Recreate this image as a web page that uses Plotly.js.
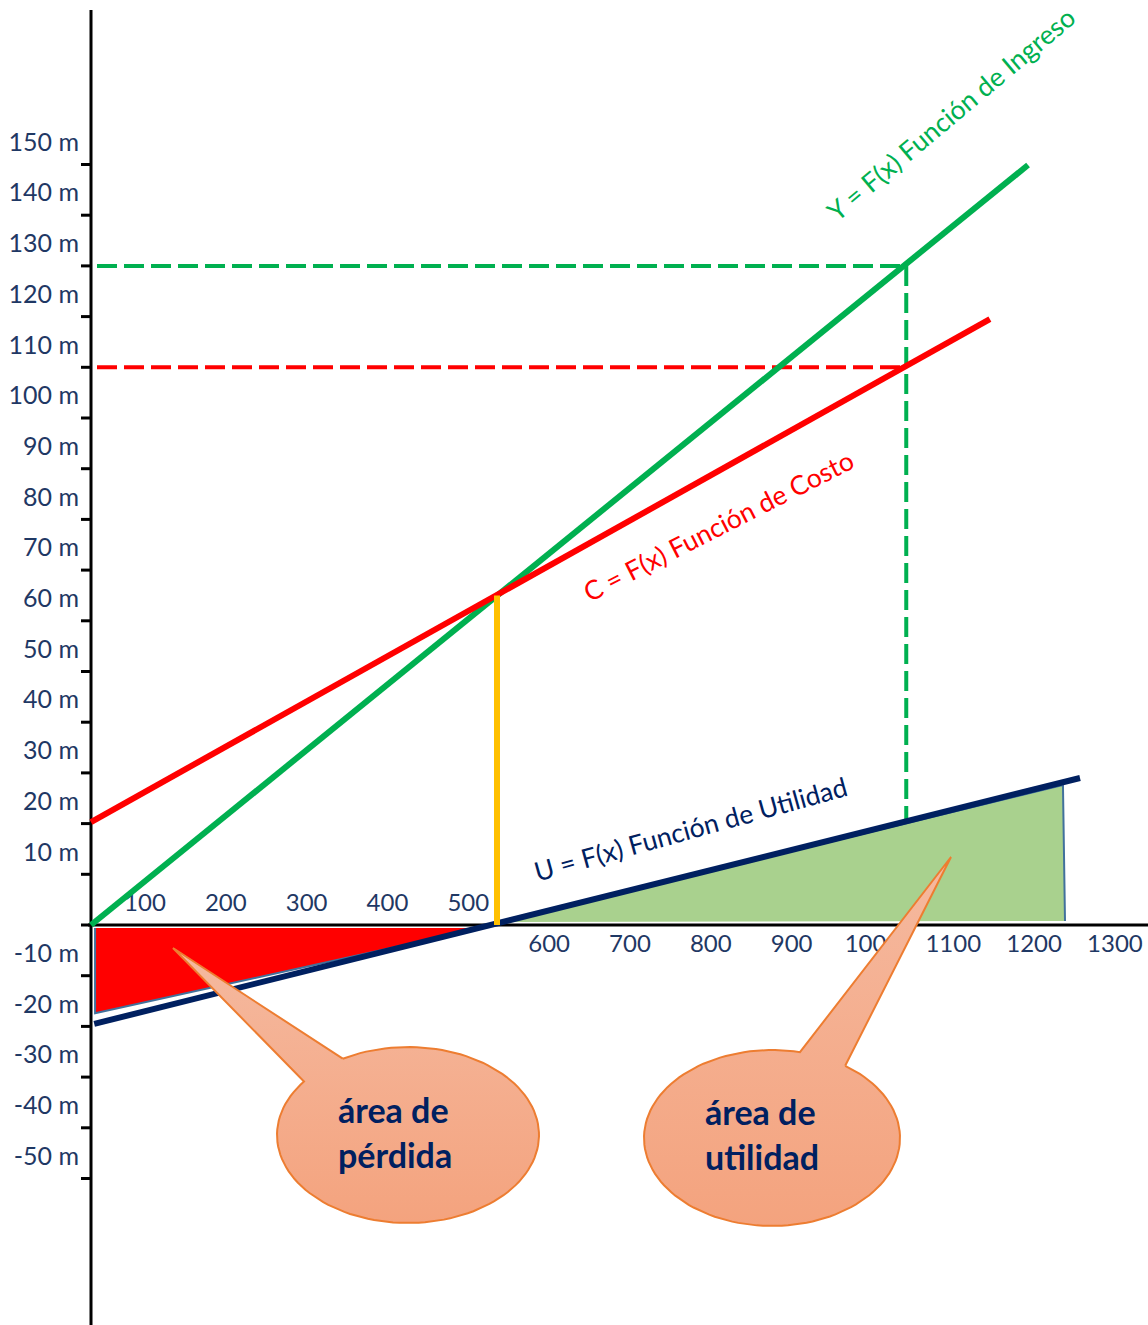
<!DOCTYPE html>
<html>
<head>
<meta charset="utf-8">
<script src="https://cdn.plot.ly/plotly-3.0.1.min.js"></script>
<style>html,body{margin:0;padding:0;background:#fff;overflow:hidden}</style>
</head>
<body>
<div id="chart" style="width:1148px;height:1325px"></div>
<script>
// ---------------- DATA (units vs. millions) ----------------
const revenueX = [0, 1154];
const revenueY = [0, 149.9];
const costX = [0, 1107];
const costY = [20.3, 119.5];
const utilityX = [4, 1218];
const utilityY = [-19.5, 29.0];
const breakEvenUnits = 500;
const breakEvenAmount = 65;
const targetUnits = 1004;
const targetRevenue = 130;
const targetCost = 110;
const targetUtility = 20.7;
const lossAreaX = [5, 5, 481];
const lossAreaY = [-0.6, -17.4, -0.6];
const profitAreaX = [505, 1197, 1199.5];
const profitAreaY = [0.6, 27.6, 0.8];
const yTickMarks = [-50, -40, -30, -20, -10, 0, 10, 20, 30, 40, 50, 60, 70, 80, 90, 100, 110, 120, 130, 140, 150];
const yLabelValues = [-50, -40, -30, -20, -10, 10, 20, 30, 40, 50, 60, 70, 80, 90, 100, 110, 120, 130, 140, 150];
const yLabelTexts = ['-50 m', '-40 m', '-30 m', '-20 m', '-10 m', '10 m', '20 m', '30 m', '40 m', '50 m', '60 m', '70 m', '80 m', '90 m', '100 m', '110 m', '120 m', '130 m', '140 m', '150 m'];
const xLabelsAbove = [100, 200, 300, 400, 500];
const xLabelsBelow = [600, 700, 800, 900, 1000, 1100, 1200, 1300];
const labelIngreso = 'Y = F(x) Función de Ingreso';
const labelCosto = 'C = F(x) Función de Costo';
const labelUtilidad = 'U = F(x) Función de Utilidad';
const calloutLoss = ['área de', 'pérdida'];
const calloutProfit = ['área de', 'utilidad'];

// ---------------- LAYOUT GEOMETRY ----------------
const W = 1148, H = 1325;
const X_PX0 = 91, X_SCALE = 0.812;   // px per unit
const Y_PX0 = 925, Y_SCALE = 5.07;   // px per million
const xRange = [-X_PX0 / X_SCALE, (W - X_PX0) / X_SCALE];
const yRange = [-(H - Y_PX0) / Y_SCALE, Y_PX0 / Y_SCALE];
const px2x = p => (p - X_PX0) / X_SCALE;
const py2y = p => (Y_PX0 - p) / Y_SCALE;

const NAVY = '#1F3864';
const FONT = 'Lato, "Open Sans", sans-serif';

const traces = [];

// tick labels (text traces, so callout pointers can cover them)
traces.push({
  type: 'scatter', mode: 'text', cliponaxis: false, hoverinfo: 'skip',
  x: yLabelValues.map(() => px2x(79)),
  y: yLabelValues.map(v => v + 20 / Y_SCALE),
  text: yLabelTexts, textposition: 'middle left',
  textfont: {family: FONT, size: 25, color: NAVY}
});
const xLabelPx = v => 145 + (v - 100) * 0.8083;
traces.push({
  type: 'scatter', mode: 'text', cliponaxis: false, hoverinfo: 'skip',
  x: xLabelsAbove.map(v => px2x(xLabelPx(v))),
  y: xLabelsAbove.map(() => 20 / Y_SCALE),
  text: xLabelsAbove.map(String), textposition: 'middle center',
  textfont: {family: FONT, size: 24, color: NAVY}
});
traces.push({
  type: 'scatter', mode: 'text', cliponaxis: false, hoverinfo: 'skip',
  x: xLabelsBelow.map(v => px2x(xLabelPx(v))),
  y: xLabelsBelow.map(() => -21 / Y_SCALE),
  text: xLabelsBelow.map(String), textposition: 'middle center',
  textfont: {family: FONT, size: 24, color: NAVY}
});

// y-axis tick marks
const tx = [], ty = [];
yTickMarks.forEach(v => { tx.push(px2x(81), 0, null); ty.push(v, v, null); });
traces.push({type: 'scatter', mode: 'lines', x: tx, y: ty, hoverinfo: 'skip',
  line: {color: '#000', width: 3}});

// areas
traces.push({type: 'scatter', mode: 'lines', fill: 'toself', hoverinfo: 'skip',
  x: lossAreaX, y: lossAreaY, fillcolor: '#FF0000', line: {color: '#41719C', width: 2}});
traces.push({type: 'scatter', mode: 'lines', fill: 'toself', hoverinfo: 'skip',
  x: profitAreaX, y: profitAreaY, fillcolor: '#A9D18E', line: {color: '#41719C', width: 2}});

// dashed guides
traces.push({type: 'scatter', mode: 'lines', hoverinfo: 'skip',
  x: [px2x(97), targetUnits], y: [targetRevenue, targetRevenue],
  line: {color: '#00B050', width: 4, dash: '20px,7px'}});
traces.push({type: 'scatter', mode: 'lines', hoverinfo: 'skip',
  x: [targetUnits, targetUnits], y: [targetRevenue, targetUtility],
  line: {color: '#00B050', width: 4, dash: '20px,7px'}});
traces.push({type: 'scatter', mode: 'lines', hoverinfo: 'skip',
  x: [px2x(97), targetUnits], y: [targetCost, targetCost],
  line: {color: '#FF0000', width: 4, dash: '20px,7px'}});

// main functions
traces.push({type: 'scatter', mode: 'lines', hoverinfo: 'skip',
  x: revenueX, y: revenueY, line: {color: '#00B050', width: 6}});
traces.push({type: 'scatter', mode: 'lines', hoverinfo: 'skip',
  x: costX, y: costY, line: {color: '#FF0000', width: 6}});
traces.push({type: 'scatter', mode: 'lines', hoverinfo: 'skip',
  x: utilityX, y: utilityY, line: {color: '#002060', width: 6}});
traces.push({type: 'scatter', mode: 'lines', hoverinfo: 'skip',
  x: [breakEvenUnits, breakEvenUnits], y: [0, breakEvenAmount], line: {color: '#FFC000', width: 6}});

// callouts (ellipse + pointer), geometry in pixels converted to axes
function callout(cx, cy, rx, ry, tip, b1, b2) {
  const ang = b => Math.atan2((b[1] - cy) / ry, (b[0] - cx) / rx);
  const a1 = ang(b1), a2 = ang(b2);
  const start = Math.max(a1, a2), end = Math.min(a1, a2) + 2 * Math.PI;
  const xs = [], ys = [];
  const n = 120;
  for (let i = 0; i <= n; i++) {
    const t = start + (end - start) * i / n;
    xs.push(px2x(cx + rx * Math.cos(t)));
    ys.push(py2y(cy + ry * Math.sin(t)));
  }
  xs.push(px2x(tip[0])); ys.push(py2y(tip[1]));
  xs.push(xs[0]); ys.push(ys[0]);
  return {type: 'scatter', mode: 'lines', fill: 'toself', hoverinfo: 'skip',
    x: xs, y: ys, line: {color: '#ED7D31', width: 2},
    fillgradient: {type: 'vertical', colorscale: [[0, '#F4A37E'], [1, '#F5B99F']]}};
}
traces.push(callout(408, 1135, 131, 88, [173, 948], [343, 1059], [305, 1082]));
traces.push(callout(772, 1138, 128, 88, [951, 857], [800, 1052], [846, 1065]));

// axis lines
const shapes = [
  {type: 'line', xref: 'x', yref: 'y', x0: 0, x1: 0, y0: py2y(10), y1: yRange[0],
   line: {color: '#000', width: 3}, layer: 'below'},
  {type: 'line', xref: 'x', yref: 'y', x0: px2x(88), x1: xRange[1], y0: 0, y1: 0,
   line: {color: '#000', width: 3}, layer: 'below'}
];

const annotations = [
  {x: px2x(951), y: py2y(114), text: labelIngreso, textangle: -40, showarrow: false,
   xanchor: 'center', yanchor: 'middle', font: {family: FONT, size: 26.5, color: '#00B050'}},
  {x: px2x(718), y: py2y(526), text: labelCosto, textangle: -27, showarrow: false,
   xanchor: 'center', yanchor: 'middle', font: {family: FONT, size: 26.5, color: '#FF0000'}},
  {x: px2x(690), y: py2y(829), text: labelUtilidad, textangle: -15.5, showarrow: false,
   xanchor: 'center', yanchor: 'middle', font: {family: FONT, size: 26.5, color: '#002060'}},
  {x: px2x(336), y: py2y(1109), text: calloutLoss[0], showarrow: false, xanchor: 'left', yanchor: 'middle',
   font: {family: FONT, size: 34, color: '#002060', weight: 'bold'}},
  {x: px2x(336), y: py2y(1154), text: calloutLoss[1], showarrow: false, xanchor: 'left', yanchor: 'middle',
   font: {family: FONT, size: 34, color: '#002060', weight: 'bold'}},
  {x: px2x(703), y: py2y(1111), text: calloutProfit[0], showarrow: false, xanchor: 'left', yanchor: 'middle',
   font: {family: FONT, size: 34, color: '#002060', weight: 'bold'}},
  {x: px2x(703), y: py2y(1156), text: calloutProfit[1], showarrow: false, xanchor: 'left', yanchor: 'middle',
   font: {family: FONT, size: 34, color: '#002060', weight: 'bold'}}
];

const layout = {
  width: W, height: H,
  margin: {l: 0, r: 0, t: 0, b: 0, pad: 0},
  paper_bgcolor: '#fff', plot_bgcolor: '#fff',
  showlegend: false,
  xaxis: {range: xRange, visible: false, fixedrange: true},
  yaxis: {range: yRange, visible: false, fixedrange: true},
  shapes: shapes,
  annotations: annotations
};

Plotly.newPlot('chart', traces, layout, {staticPlot: true, displayModeBar: false});
</script>
</body>
</html>
